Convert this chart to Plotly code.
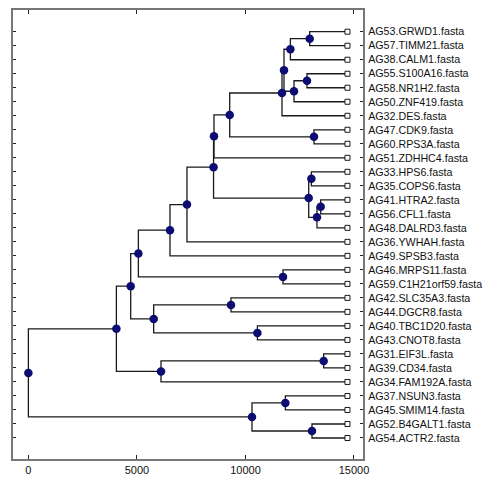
import plotly.graph_objects as go

leaves = [
    "AG53.GRWD1.fasta", "AG57.TIMM21.fasta", "AG38.CALM1.fasta",
    "AG55.S100A16.fasta", "AG58.NR1H2.fasta", "AG50.ZNF419.fasta",
    "AG32.DES.fasta", "AG47.CDK9.fasta", "AG60.RPS3A.fasta",
    "AG51.ZDHHC4.fasta", "AG33.HPS6.fasta", "AG35.COPS6.fasta",
    "AG41.HTRA2.fasta", "AG56.CFL1.fasta", "AG48.DALRD3.fasta",
    "AG36.YWHAH.fasta", "AG49.SPSB3.fasta", "AG46.MRPS11.fasta",
    "AG59.C1H21orf59.fasta", "AG42.SLC35A3.fasta", "AG44.DGCR8.fasta",
    "AG40.TBC1D20.fasta", "AG43.CNOT8.fasta", "AG31.EIF3L.fasta",
    "AG39.CD34.fasta", "AG34.FAM192A.fasta", "AG37.NSUN3.fasta",
    "AG45.SMIM14.fasta", "AG52.B4GALT1.fasta", "AG54.ACTR2.fasta",
]
leaf_height = 14700

# merges: (node name, child a, child b, height)
merge_names = ["N1", "N2", "N3", "N4", "N5", "N6", "N7", "N8", "N9", "N10",
               "N11", "N12", "N13", "N14", "N15", "N16", "N17", "N18", "N19", "N20",
               "N21", "N22", "N23", "N24", "N25", "N26", "N27", "N28", "N29"]
merge_a = ["AG53.GRWD1.fasta", "N1", "AG55.S100A16.fasta", "N3", "N2", "N5",
           "AG47.CDK9.fasta", "N6", "N8", "AG33.HPS6.fasta", "AG41.HTRA2.fasta",
           "N11", "N10", "N9", "N14", "N15", "AG46.MRPS11.fasta", "N16",
           "AG42.SLC35A3.fasta", "AG40.TBC1D20.fasta", "N19", "N18",
           "AG31.EIF3L.fasta", "N23", "N22", "AG37.NSUN3.fasta",
           "AG52.B4GALT1.fasta", "N26", "N25"]
merge_b = ["AG57.TIMM21.fasta", "AG38.CALM1.fasta", "AG58.NR1H2.fasta",
           "AG50.ZNF419.fasta", "N4", "AG32.DES.fasta", "AG60.RPS3A.fasta", "N7",
           "AG51.ZDHHC4.fasta", "AG35.COPS6.fasta", "AG56.CFL1.fasta",
           "AG48.DALRD3.fasta", "N12", "N13", "AG36.YWHAH.fasta",
           "AG49.SPSB3.fasta", "AG59.C1H21orf59.fasta", "N17", "AG44.DGCR8.fasta",
           "AG43.CNOT8.fasta", "N20", "N21", "AG39.CD34.fasta",
           "AG34.FAM192A.fasta", "N24", "AG45.SMIM14.fasta", "AG54.ACTR2.fasta",
           "N27", "N28"]
merge_h = [12960, 12070, 12835, 12236, 11775, 11683, 13157, 9274, 8550, 13037,
           13466, 13295, 12913, 8530, 7306, 6523, 11729, 5067, 9333, 10550,
           5772, 4713, 13604, 6109, 4054, 11839, 13065, 10301, 0]

# positions computed from tree structure
pos = {name: (leaf_height, i) for i, name in enumerate(leaves)}
lx, ly = [], []
nx, ny = [], []
for name, a, b, h in zip(merge_names, merge_a, merge_b, merge_h):
    xa, ya = pos[a]
    xb, yb = pos[b]
    yc = (ya + yb) / 2
    pos[name] = (h, yc)
    lx += [xa, h, h, xb, None]
    ly += [ya, ya, yb, yb, None]
    nx.append(h)
    ny.append(yc)

fig = go.Figure()
fig.add_trace(go.Scatter(x=lx, y=ly, mode="lines",
                         line=dict(color="#1a1a1a", width=1.3),
                         hoverinfo="skip", showlegend=False))
fig.add_trace(go.Scatter(x=[leaf_height] * len(leaves), y=list(range(len(leaves))),
                         mode="markers",
                         marker=dict(symbol="square", size=5, color="white",
                                     line=dict(color="#1a1a1a", width=1)),
                         showlegend=False))
fig.add_trace(go.Scatter(x=nx, y=ny, mode="markers",
                         marker=dict(symbol="circle", size=8.5, color="#0c0c72",
                                     line=dict(width=0)),
                         showlegend=False))

fig.update_layout(
    width=484, height=479,
    margin=dict(l=13, r=121, t=10, b=20),
    paper_bgcolor="white", plot_bgcolor="white",
    font=dict(family="Liberation Sans, Arial, sans-serif", color="#111111"),
    showlegend=False,
)
fig.update_xaxes(range=[-709, 15415], tickvals=[0, 5000, 10000, 15000],
                 ticktext=["0", "5000", "10000", "15000"],
                 showgrid=False, zeroline=False, showline=True,
                 linecolor="#777777", linewidth=2, mirror="allticks",
                 ticks="inside", ticklen=4, tickcolor="#222222", tickwidth=1,
                 tickfont=dict(size=11), automargin=False)
fig.update_yaxes(range=[30.5, -1.55], tickvals=list(range(len(leaves))),
                 ticktext=leaves, side="right",
                 showgrid=False, zeroline=False, showline=True,
                 linecolor="#777777", linewidth=2, mirror="allticks",
                 ticks="inside", ticklen=3, tickcolor="#222222", tickwidth=1,
                 tickfont=dict(size=10.7), ticklabelstandoff=1, automargin=False)

fig.write_html("out.html")
